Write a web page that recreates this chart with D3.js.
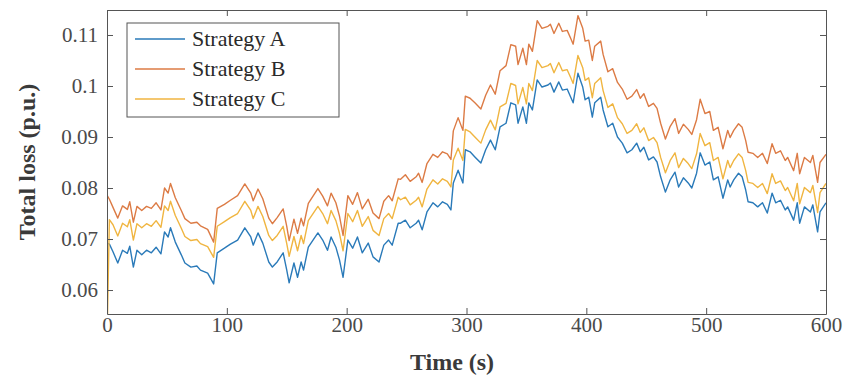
<!DOCTYPE html>
<html>
<head>
<meta charset="utf-8">
<script src="https://cdn.jsdelivr.net/npm/d3@7/dist/d3.min.js"></script>
<style>
  body { margin: 0; background: #fff; }
  svg { display: block; font-family: "Liberation Serif", "Times New Roman", serif; }
  .tick-label { fill: #4a4a4a; font-size: 21px; }
  .axis-title { fill: #3a3a3a; font-size: 24px; font-weight: bold; }
  .legend-text { fill: #2a2a2a; font-size: 22px; }
</style>
</head>
<body>
<svg width="844" height="379"></svg>
<script>
// ***********************************
// Data

var time = [0, 2, 5, 9, 13, 17, 19, 22, 25, 29, 33, 37, 41, 45, 48, 51, 53, 57, 62, 65, 70, 75, 78, 84, 89, 92, 98, 103, 109, 115, 120,
  122, 126, 130, 135, 138, 142, 147, 150, 152, 156, 159, 162, 164, 168, 176, 180, 184, 187, 191, 194, 197, 201, 205, 209, 213, 218, 222, 227, 231, 235, 238, 243,
  245, 249, 253, 258, 260, 263, 267, 272, 276, 280, 284, 287, 289, 293, 297, 299, 303, 307, 312, 316, 320, 324, 328, 333, 337, 341, 343, 347, 350, 352, 355, 359, 363, 368,
  370, 373, 377, 380, 384, 387, 389, 393, 397, 399, 402, 405, 407, 412, 414, 418, 422, 426, 430, 434, 438, 442, 445, 448, 452, 456, 459, 462, 466, 470, 474, 477, 481, 485, 488, 492, 495,
  499, 503, 506, 510, 514, 518, 520, 523, 527, 530, 533, 535, 539, 543, 547, 551, 555, 558, 562, 566, 568, 573, 576, 578, 582, 587, 589, 593, 595, 600];

var strategyA = [0.0692, 0.0690, 0.0675, 0.0653, 0.0678, 0.0672, 0.0686, 0.0645, 0.0678, 0.0669, 0.0678, 0.0673, 0.0684, 0.0671, 0.0714, 0.0704, 0.0722, 0.0694, 0.0669, 0.0653, 0.0645, 0.0647, 0.0639, 0.0633, 0.0612, 0.0673, 0.0682, 0.0690, 0.0698, 0.0722, 0.0704,
  0.0688, 0.0712, 0.0692, 0.0655, 0.0645, 0.0655, 0.0673, 0.0639, 0.0614, 0.0653, 0.0625, 0.0655, 0.0639, 0.0684, 0.0712, 0.0698, 0.0678, 0.0704, 0.0684, 0.0659, 0.0625, 0.0698, 0.0682, 0.0704, 0.0673, 0.0692, 0.0665, 0.0655, 0.0688, 0.0698, 0.0688, 0.0731,
  0.0731, 0.0737, 0.0722, 0.0731, 0.0737, 0.0718, 0.0753, 0.0771, 0.0763, 0.0773, 0.0768, 0.0757, 0.0810, 0.0835, 0.0810, 0.0875, 0.0871, 0.0861, 0.0849, 0.0875, 0.0894, 0.0875, 0.0920, 0.0927, 0.0967, 0.0963, 0.0927, 0.0959, 0.0927, 0.0967, 0.0953, 0.1012, 0.0998, 0.1002,
  0.1006, 0.0988, 0.1008, 0.0992, 0.0994, 0.0978, 0.0967, 0.1025, 0.0998, 0.0973, 0.0978, 0.0939, 0.0967, 0.0978, 0.0953, 0.0920, 0.0927, 0.0900, 0.0888, 0.0869, 0.0875, 0.0888, 0.0871, 0.0880, 0.0855, 0.0861, 0.0851, 0.0822, 0.0792, 0.0816, 0.0831, 0.0802, 0.0820, 0.0810, 0.0800, 0.0829, 0.0869,
  0.0845, 0.0851, 0.0816, 0.0822, 0.0780, 0.0816, 0.0802, 0.0816, 0.0829, 0.0822, 0.0796, 0.0773, 0.0771, 0.0763, 0.0771, 0.0751, 0.0790, 0.0771, 0.0776, 0.0757, 0.0763, 0.0737, 0.0771, 0.0731, 0.0763, 0.0753, 0.0767, 0.0714, 0.0753, 0.0771];

var strategyB = [0.0786, 0.0778, 0.0762, 0.0741, 0.0765, 0.0758, 0.0773, 0.0733, 0.0764, 0.0756, 0.0764, 0.0760, 0.0771, 0.0757, 0.0800, 0.0790, 0.0809, 0.0781, 0.0756, 0.0740, 0.0731, 0.0733, 0.0726, 0.0719, 0.0694, 0.0760, 0.0768, 0.0776, 0.0785, 0.0808, 0.0790,
  0.0775, 0.0798, 0.0779, 0.0741, 0.0730, 0.0742, 0.0759, 0.0725, 0.0697, 0.0739, 0.0711, 0.0741, 0.0726, 0.0770, 0.0799, 0.0784, 0.0765, 0.0790, 0.0771, 0.0745, 0.0707, 0.0785, 0.0768, 0.0791, 0.0759, 0.0778, 0.0751, 0.0740, 0.0774, 0.0785, 0.0775, 0.0818,
  0.0817, 0.0826, 0.0813, 0.0822, 0.0829, 0.0811, 0.0848, 0.0866, 0.0860, 0.0871, 0.0867, 0.0856, 0.0912, 0.0938, 0.0913, 0.0980, 0.0976, 0.0967, 0.0955, 0.0982, 0.1002, 0.0984, 0.1030, 0.1040, 0.1081, 0.1078, 0.1042, 0.1074, 0.1042, 0.1082, 0.1068, 0.1128, 0.1113, 0.1117,
  0.1121, 0.1103, 0.1123, 0.1107, 0.1109, 0.1093, 0.1082, 0.1138, 0.1113, 0.1088, 0.1090, 0.1050, 0.1078, 0.1088, 0.1062, 0.1028, 0.1034, 0.1007, 0.0994, 0.0974, 0.0980, 0.0993, 0.0976, 0.0985, 0.0960, 0.0966, 0.0956, 0.0927, 0.0896, 0.0921, 0.0936, 0.0907, 0.0925, 0.0915, 0.0905, 0.0934, 0.0974,
  0.0946, 0.0950, 0.0913, 0.0919, 0.0877, 0.0913, 0.0899, 0.0913, 0.0926, 0.0919, 0.0893, 0.0870, 0.0868, 0.0860, 0.0868, 0.0848, 0.0887, 0.0868, 0.0873, 0.0854, 0.0860, 0.0834, 0.0868, 0.0828, 0.0860, 0.0850, 0.0864, 0.0811, 0.0850, 0.0866];

var strategyC = [0.0500, 0.0738, 0.0728, 0.0706, 0.0731, 0.0724, 0.0738, 0.0698, 0.0730, 0.0722, 0.0730, 0.0725, 0.0736, 0.0723, 0.0765, 0.0756, 0.0774, 0.0746, 0.0721, 0.0705, 0.0697, 0.0699, 0.0691, 0.0685, 0.0664, 0.0725, 0.0734, 0.0742, 0.0750, 0.0774, 0.0756,
  0.0740, 0.0764, 0.0744, 0.0707, 0.0697, 0.0707, 0.0725, 0.0691, 0.0666, 0.0705, 0.0677, 0.0707, 0.0691, 0.0736, 0.0764, 0.0750, 0.0730, 0.0756, 0.0736, 0.0711, 0.0677, 0.0750, 0.0734, 0.0756, 0.0725, 0.0744, 0.0717, 0.0707, 0.0740, 0.0750, 0.0740, 0.0782,
  0.0777, 0.0782, 0.0767, 0.0776, 0.0782, 0.0763, 0.0798, 0.0816, 0.0808, 0.0818, 0.0813, 0.0802, 0.0855, 0.0878, 0.0854, 0.0915, 0.0910, 0.0900, 0.0888, 0.0914, 0.0933, 0.0914, 0.0959, 0.0966, 0.1005, 0.1001, 0.0965, 0.0997, 0.0965, 0.1005, 0.0991, 0.1050, 0.1036, 0.1040,
  0.1044, 0.1026, 0.1046, 0.1030, 0.1032, 0.1016, 0.1005, 0.1060, 0.1036, 0.1011, 0.1016, 0.0977, 0.1005, 0.1016, 0.0991, 0.0958, 0.0965, 0.0938, 0.0926, 0.0907, 0.0913, 0.0926, 0.0909, 0.0918, 0.0893, 0.0899, 0.0889, 0.0860, 0.0830, 0.0854, 0.0869, 0.0840, 0.0858, 0.0848, 0.0838, 0.0867, 0.0907,
  0.0883, 0.0889, 0.0854, 0.0860, 0.0818, 0.0854, 0.0840, 0.0854, 0.0867, 0.0860, 0.0834, 0.0811, 0.0809, 0.0801, 0.0809, 0.0789, 0.0828, 0.0809, 0.0814, 0.0795, 0.0801, 0.0775, 0.0809, 0.0769, 0.0801, 0.0791, 0.0805, 0.0752, 0.0791, 0.0809];

var seriesNames = ["Strategy A", "Strategy B", "Strategy C"];
var seriesColors = ["#2a7ab9", "#dc7b45", "#f0b540"];
var xTicks = [0, 100, 200, 300, 400, 500, 600];
var yTicks = [0.06, 0.07, 0.08, 0.09, 0.1, 0.11];

// ***********************************
// Set up the SVG and the scales

var svg = d3.select("svg"),
  width = +svg.attr("width"),
  height = +svg.attr("height");

var plot = { left: 107, right: 826, top: 10, bottom: 314 };
var axisColor = "#555";

var x = d3.scaleLinear()
  .domain([0, 600])
  .range([plot.left, plot.right]);

var y = d3.scaleLinear()
  .domain([0.0553, 0.1149])
  .range([plot.bottom, plot.top]);

// Clip the lines to the axes box (the first point of C dives below it)
svg.append("clipPath")
  .attr("id", "plot-clip")
  .append("rect")
  .attr("x", plot.left)
  .attr("y", plot.top)
  .attr("width", plot.right - plot.left)
  .attr("height", plot.bottom - plot.top);

// ***********************************
// Draw the three lines

var line = d3.line()
  .x(function(d) { return x(d[0]); })
  .y(function(d) { return y(d[1]); });

var allSeries = [strategyA, strategyB, strategyC];

svg.append("g")
  .attr("clip-path", "url(#plot-clip)")
  .selectAll("path")
  .data(allSeries)
  .enter().append("path")
  .attr("fill", "none")
  .attr("stroke", function(d, i) { return seriesColors[i]; })
  .attr("stroke-width", 1.4)
  .attr("stroke-linejoin", "round")
  .attr("d", function(d) {
    return line(time.map(function(t, i) { return [t, d[i]]; }));
  });

// ***********************************
// Axes, MATLAB style: box all round and ticks pointing inward

function styleAxis(g) {
  g.attr("font-family", null).attr("font-size", null);
  g.select(".domain").attr("stroke", axisColor).attr("stroke-width", 1);
  g.selectAll(".tick line").attr("stroke", axisColor);
  g.selectAll(".tick text").attr("class", "tick-label").attr("fill", null);
}

svg.append("g")
  .attr("transform", "translate(0," + plot.bottom + ")")
  .call(d3.axisBottom(x).tickValues(xTicks).tickSizeInner(-6).tickSizeOuter(0).tickPadding(3))
  .call(styleAxis);

svg.append("g")
  .attr("transform", "translate(" + plot.left + ",0)")
  .call(d3.axisLeft(y).tickValues(yTicks).tickSizeInner(-6).tickSizeOuter(0).tickPadding(9)
    .tickFormat(function(d) { return String(+d.toFixed(2)); }))
  .call(styleAxis);

// mirrored ticks on the top and right edges, no labels
svg.append("g")
  .attr("transform", "translate(0," + plot.top + ")")
  .call(d3.axisTop(x).tickValues(xTicks).tickSizeInner(-6).tickSizeOuter(0).tickFormat(""))
  .call(styleAxis);

svg.append("g")
  .attr("transform", "translate(" + plot.right + ",0)")
  .call(d3.axisRight(y).tickValues(yTicks).tickSizeInner(-6).tickSizeOuter(0).tickFormat(""))
  .call(styleAxis);

// axis titles
svg.append("text")
  .attr("class", "axis-title")
  .attr("x", 452)
  .attr("y", 370)
  .attr("text-anchor", "middle")
  .text("Time (s)");

svg.append("text")
  .attr("class", "axis-title")
  .attr("transform", "translate(35," + (plot.top + plot.bottom) / 2 + ") rotate(-90)")
  .attr("text-anchor", "middle")
  .text("Total loss (p.u.)");

// ***********************************
// Legend

var gKey = svg.append("g")
  .attr("transform", "translate(127,23)");

gKey.append("rect")
  .attr("width", 212)
  .attr("height", 94)
  .attr("fill", "#fff")
  .attr("stroke", axisColor)
  .attr("stroke-width", 1);

var keyRow = gKey.selectAll("g.row")
  .data(seriesNames)
  .enter().append("g")
  .attr("class", "row")
  .attr("transform", function(d, i) { return "translate(0," + (16 + i * 30) + ")"; });

keyRow.append("line")
  .attr("x1", 8).attr("x2", 58)
  .attr("stroke", function(d, i) { return seriesColors[i]; })
  .attr("stroke-width", 1.4);

keyRow.append("text")
  .attr("class", "legend-text")
  .attr("x", 65)
  .attr("y", 7)
  .text(function(d) { return d; });
</script>
</body>
</html>
